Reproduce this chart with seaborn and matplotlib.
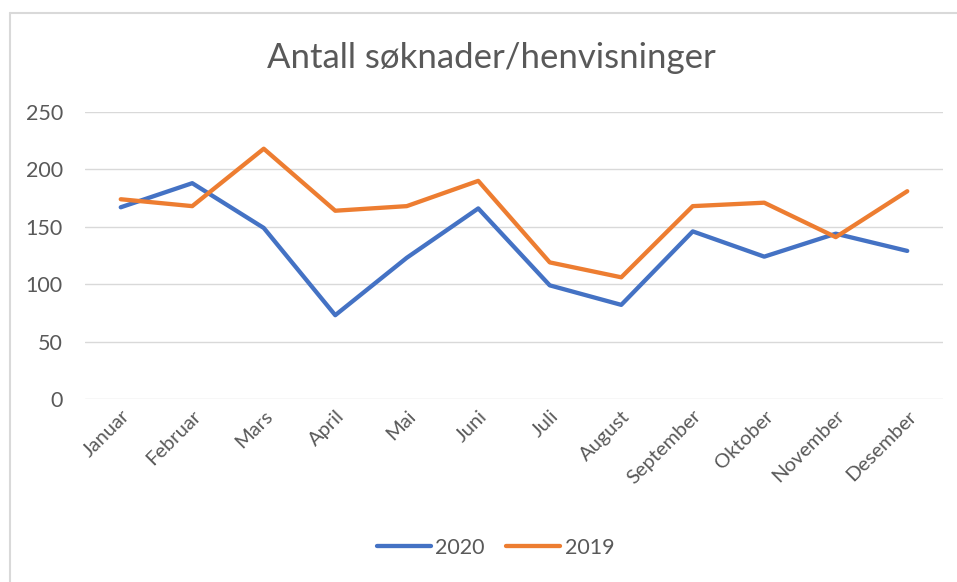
import matplotlib
matplotlib.use("Agg")
import matplotlib.pyplot as plt
import seaborn as sns
import pandas as pd
from matplotlib.lines import Line2D

# Data
months = ["Januar", "Februar", "Mars", "April", "Mai", "Juni", "Juli",
          "August", "September", "Oktober", "November", "Desember"]
soknader_2020 = [167, 188, 149, 73, 123, 166, 99, 82, 146, 124, 144, 129]
soknader_2019 = [174, 168, 218, 164, 168, 190, 119, 106, 168, 171, 141, 181]
years = ["2020", "2019"]
colors = ["#4472C4", "#ED7D31"]

df = pd.DataFrame({"Måned": months * 2,
                   "Antall": soknader_2020 + soknader_2019,
                   "År": [years[0]] * 12 + [years[1]] * 12})

sns.set_style("white")
plt.rcParams["font.family"] = ["Lato", "DejaVu Sans"]

fig = plt.figure(figsize=(9.57, 5.82), dpi=100)
ax = fig.add_axes([85 / 957, 1 - 399 / 582, (943 - 85) / 957, (399 - 112) / 582])

sns.lineplot(data=df, x="Måned", y="Antall", hue="År", hue_order=years,
             palette=colors, linewidth=3.1, sort=False, ax=ax)

ax.set_xlim(-0.5, len(months) - 0.5)
ax.set_ylim(0, 250)
ax.set_yticks([0, 50, 100, 150, 200, 250])
ax.grid(axis="y", color="#D9D9D9", linewidth=1)
ax.set_axisbelow(True)
for s in ax.spines.values():
    s.set_visible(False)
ax.set_xlabel("")
ax.set_ylabel("")
ax.tick_params(axis="both", length=0, colors="#595959", labelsize=15.5)
ax.tick_params(axis="y", pad=16)
ax.tick_params(axis="x", pad=6, labelsize=14.5)
plt.setp(ax.get_xticklabels(), rotation=45, ha="right", rotation_mode="anchor")

fig.text(0.513, 1 - 58 / 582, "Antall søknader/henvisninger", ha="center", va="center",
         fontsize=25, color="#595959")

handles, labels = ax.get_legend_handles_labels()
ax.legend(handles, labels, loc="center", bbox_to_anchor=(0.518, 1 - 548 / 582),
          bbox_transform=fig.transFigure, ncol=2, frameon=False, fontsize=15.5,
          handlelength=2.5, handletextpad=0.2, columnspacing=1.0,
          labelcolor="#595959")

# chart frame (left and top edges visible in the reference)
fig.add_artist(Line2D([10 / 957, 10 / 957], [0, 1 - 13 / 582], color="#D9D9D9", linewidth=1.5))
fig.add_artist(Line2D([10 / 957, 1], [1 - 13 / 582, 1 - 13 / 582], color="#D9D9D9", linewidth=1.5))

fig.savefig("out.png", dpi=100)
